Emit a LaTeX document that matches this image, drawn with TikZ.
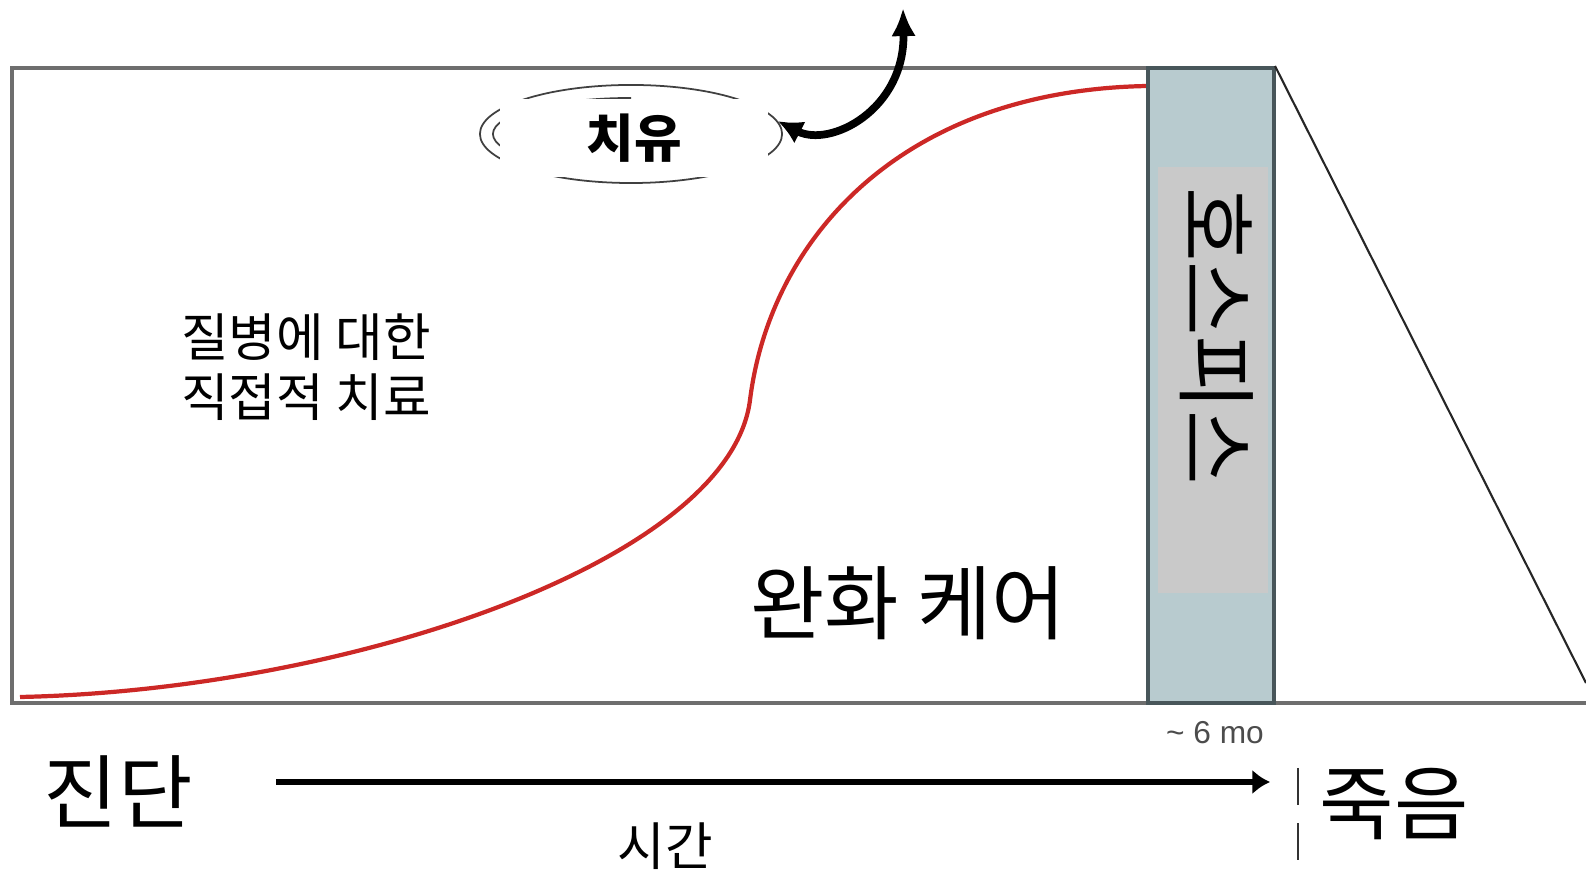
\documentclass[tikz,border=0pt]{standalone}
\usepackage{fontspec}
\setmainfont{Noto Sans CJK KR}
\newfontfamily\monthfont{Liberation Sans}
\usetikzlibrary{calc,shapes.geometric,arrows.meta}
\tikzset{>=latex}
\definecolor{curvered}{RGB}{204,40,38}
\definecolor{hospiceblue}{RGB}{184,203,207}
\definecolor{hospicegray}{RGB}{201,201,201}
\definecolor{hospiceedge}{RGB}{72,86,90}
\definecolor{framegray}{RGB}{110,110,110}
\newcommand{\bigtext}{\fontsize{23}{27}\selectfont}
\newcommand{\midtext}{\fontsize{14.7}{17}\selectfont}

\begin{document}
\begin{tikzpicture}[x=0.01cm,y=-0.01cm]
  \useasboundingbox (0,0) rectangle (1586,871);
  % frame
  \draw[framegray,line width=0.9pt] (1275,68) -- (12,68) -- (12,703) -- (1586,703);
  % treatment curve
  \draw[curvered,line width=1.2pt] (20,697) .. controls (350,690) and (730,560) .. (750,400)
    .. controls (770,240) and (900,90) .. (1148,86);
  % hospice column
  \draw[fill=hospiceblue,draw=hospiceedge,line width=0.9pt] (1148,68) rectangle (1274,703);
  \fill[hospicegray] (1158,167) rectangle (1268,593);
  \node (hospice) [rotate=-90,font=\bigtext] at (1217,336) {호스피스};
  % decline after hospice
  \draw[black!85,line width=0.6pt] (1275,66) -- (1586,683);
  % cure
  \node (cure) [ellipse,draw=black!75,line width=0.5pt,minimum width=3.02cm,minimum height=0.98cm] at (631,134) {};
  \draw[black!75,line width=0.5pt] (cure.center) ++(0,0.36cm) arc [start angle=90,end angle=270,x radius=1.38cm,y radius=0.36cm];
  \node (curelabel) [fill=white,minimum width=2.68cm,minimum height=0.77cm,font=\midtext\bfseries] at (634,138) {치유};
  \coordinate (curetop) at (903,8);
  \draw[{Latex[length=7pt,width=7pt]}-{Latex[length=8pt,width=7pt]},line width=2.2pt] (cure.5) .. controls (830,148) and (905,110) .. (curetop);
  % labels
  \node (treat) [align=center,font=\midtext] at (306,367) {질병에 대한\\직접적 치료};
  \node (palliative) [font=\bigtext] at (908,603) {완화 케어};
  \node (months) [font=\monthfont\fontsize{9}{10}\selectfont,text=black!70] at (1215,733) {\textasciitilde\ 6 mo};
  % time axis
  \node (diagnosis) [font=\bigtext] at (118,791) {진단};
  \node (death) [font=\bigtext] at (1394,804) {죽음};
  \node (time) [font=\midtext] at (665,846) {시간};
  \coordinate (tstart) at (276,782);
  \coordinate (tend) at (1270,782);
  \draw[-{Latex[length=5pt,width=7pt]},line width=1.5pt] (tstart) -- (tend);
  \draw[black!80,line width=0.5pt] (1298,768) -- (1298,805) (1298,823) -- (1298,860);
\end{tikzpicture}
\end{document}
